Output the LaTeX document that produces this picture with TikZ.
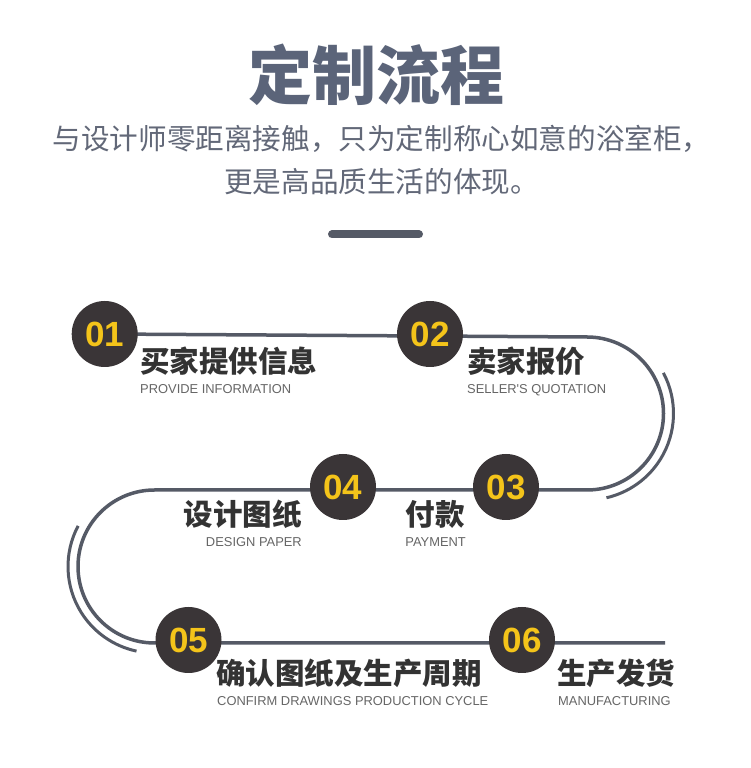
\documentclass[tikz,border=0pt]{standalone}
\usepackage{fontspec}
\newfontfamily\cjk{Noto Sans CJK SC}
\newfontfamily\enfont{Liberation Sans}
\usetikzlibrary{backgrounds}
\definecolor{linecol}{HTML}{555A66}
\definecolor{circcol}{HTML}{3A3537}
\definecolor{numcol}{HTML}{F4C41A}
\definecolor{titlecol}{HTML}{5B6479}
\definecolor{subcol}{HTML}{626878}
\definecolor{cjkcol}{HTML}{333333}
\definecolor{encol}{HTML}{666666}
\tikzset{
  flow/.style={draw=linecol, line width=3.5pt},
  outer/.style={draw=linecol, line width=3pt},
  stepnum/.style={circle, fill=circcol, minimum size=66pt, inner sep=0pt,
    text=numcol, font=\enfont\bfseries\fontsize{35}{35}\selectfont},
  cjklabel/.style={inner sep=0pt, text=cjkcol, font=\cjk\bfseries\fontsize{29.5}{30}\selectfont},
  enlabel/.style={inner sep=0pt, text=encol, font=\enfont\fontsize{12.9}{13}\selectfont},
}
\begin{document}
\begin{tikzpicture}[x=1pt,y=1pt]
\useasboundingbox (0,0) rectangle (750,768);
% title block
\node[inner sep=0pt, anchor=base, text=titlecol, font=\cjk\bfseries\fontsize{64}{64}\selectfont] (title) at (376,668) {定制流程};
\node[inner sep=0pt, anchor=base, text=subcol, font=\cjk\fontsize{28.6}{29}\selectfont] (sub1) at (381.5,618) {与设计师零距离接触，只为定制称心如意的浴室柜，};
\node[inner sep=0pt, anchor=base, text=subcol, font=\cjk\fontsize{28.6}{29}\selectfont] (sub2) at (381.5,575) {更是高品质生活的体现。};
\draw[linecol, line width=8pt, line cap=round] (332,533.5) -- (419,533.5);
% circles
\node[stepnum] (c01) at (104.7,434) {01};
\node[stepnum] (c02) at (430,434) {02};
\node[stepnum] (c03) at (506,281) {03};
\node[stepnum] (c04) at (343,281) {04};
\node[stepnum] (c05) at (188.5,128) {05};
\node[stepnum] (c06) at (522,128) {06};
\coordinate (tEnd) at (665,125);
% flow path
\begin{scope}[on background layer]
\fill[white] (0,0) rectangle (750,768);
\draw[flow] (c01.center) -- (587,431) arc[start angle=90, end angle=-90, radius=76.5]
  -- (154.5,278) arc[start angle=90, end angle=270, radius=76.5] -- (tEnd);
\draw[outer] (587,354.5) ++(28:86.5) arc[start angle=28, end angle=-77, radius=86.5];
\draw[outer] (154.5,201.5) ++(152:86.5) arc[start angle=152, end angle=258, radius=86.5];
\end{scope}
% labels
\node[cjklabel, anchor=base west] (l01) at (140,395.3) {买家提供信息};
\node[enlabel, anchor=base west] (e01) at (140,374) {PROVIDE INFORMATION};
\node[cjklabel, anchor=base west] (l02) at (467,395.3) {卖家报价};
\node[enlabel, anchor=base west] (e02) at (467,374) {SELLER'S QUOTATION};
\node[cjklabel, anchor=base east] (l03) at (465,242.8) {付款};
\node[enlabel, anchor=base east] (e03) at (466,221) {PAYMENT};
\node[cjklabel, anchor=base east] (l04) at (302,242.8) {设计图纸};
\node[enlabel, anchor=base east] (e04) at (302,221) {DESIGN PAPER};
\node[cjklabel, anchor=base west] (l05) at (216,83.8) {确认图纸及生产周期};
\node[enlabel, anchor=base west] (e05) at (217,62) {CONFIRM DRAWINGS PRODUCTION CYCLE};
\node[cjklabel, anchor=base west] (l06) at (557,83.8) {生产发货};
\node[enlabel, anchor=base west] (e06) at (558,62) {MANUFACTURING};
\end{tikzpicture}
\end{document}
